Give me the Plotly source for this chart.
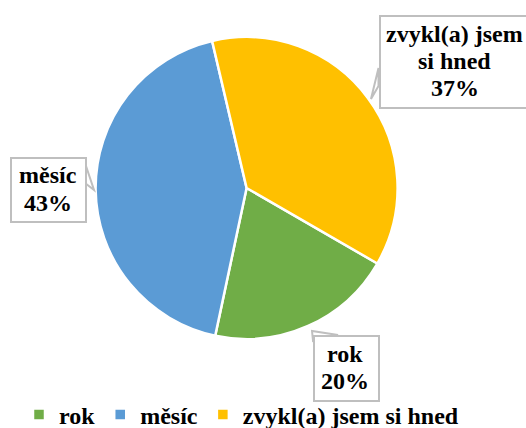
import plotly.graph_objects as go

W, H = 526, 428

labels = ["rok", "měsíc", "zvykl(a) jsem si hned"]
values = [20, 43, 37]
colors = ["#70AD47", "#5B9BD5", "#FFC000"]
# callout label lines (the original wraps the long label)
callout_lines = [["rok"], ["měsíc"], ["zvykl(a) jsem", "si hned"]]

FONT = "Liberation Serif"
BORDER = "#BFBFBF"
LINE_H = 27.5  # px between callout text lines


def px(x):
    return x / W


def py(y):
    return 1 - y / H


def poly(points):
    # pixel points -> svg path in paper coords
    return "M " + " L ".join(f"{px(x):.4f},{py(y):.4f}" for x, y in points) + " Z"


fig = go.Figure(go.Pie(
    labels=labels, values=values, sort=False, direction="clockwise", rotation=120,
    marker=dict(colors=colors, line=dict(color="white", width=2.5)),
    textinfo="none", hoverinfo="label+percent",
    domain=dict(x=[px(95.6), px(397.6)], y=[py(339), py(37)]),
))

# callouts: box (left, top, width, height) and tail triangle in pixels
callouts = [
    ((313, 335, 64.5, 65), [(313, 341), (312, 331), (338, 335)]),
    ((10, 157, 75, 64), [(85, 163), (94, 190), (85, 183)]),
    ((378.5, 15, 152, 92), [(378.5, 68), (371, 99), (378.5, 86)]),
]

total = sum(values)
shapes, annotations = [], []
for ((bx, by, bw, bh), tail), lines, v in zip(callouts, callout_lines, values):
    shapes.append(dict(type="path", xref="paper", yref="paper", path=poly(tail), layer="above",
                       fillcolor="white", line=dict(color=BORDER, width=2)))
    # the box itself
    annotations.append(dict(
        x=px(bx), y=py(by), xref="paper", yref="paper", xanchor="left", yanchor="top",
        showarrow=False, width=bw - 2, height=bh - 2, borderpad=0, borderwidth=2,
        bordercolor=BORDER, bgcolor="white", text=" ",
    ))
    # text lines, centred in the box
    lines = lines + [f"{round(100 * v / total)}%"]
    cx, cy = bx + bw / 2, by + bh / 2
    for i, t in enumerate(lines):
        ly = cy + (i - (len(lines) - 1) / 2) * LINE_H
        annotations.append(dict(
            x=px(cx), y=py(ly), xref="paper", yref="paper", xanchor="center", yanchor="middle",
            showarrow=False, text=f"<b>{t}</b>",
            font=dict(family=FONT, size=24, color="black"),
        ))

fig.update_layout(
    width=W, height=H, margin=dict(l=0, r=0, t=0, b=0, autoexpand=False),
    paper_bgcolor="white", plot_bgcolor="white",
    font=dict(family=FONT, color="black"),
    shapes=shapes, annotations=annotations,
    showlegend=True,
    legend=dict(orientation="h", x=px(19), xanchor="left", y=py(415), yanchor="middle",
                font=dict(family=FONT, size=24, color="black", weight="bold"), itemwidth=30,
                traceorder="normal"),
)

fig.write_html("out.html", config={"displayModeBar": False},
               post_script="document.body.style.margin='0';")
